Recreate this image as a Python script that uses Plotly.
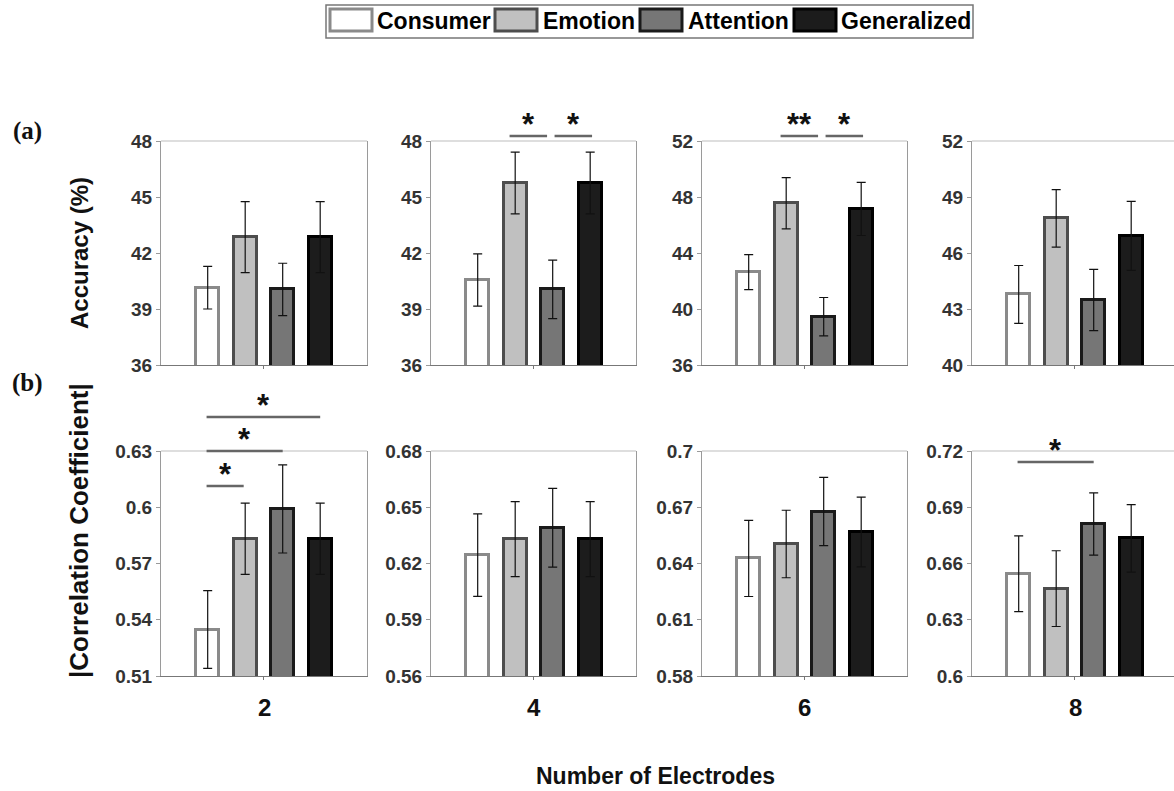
import plotly.graph_objects as go

# ---------------- data ----------------
categories = ["Consumer", "Emotion", "Attention", "Generalized"]
electrodes = ["2", "4", "6", "8"]

acc_mean_2 = [40.14, 42.85, 40.05, 42.85]
acc_err_2 = [1.14, 1.90, 1.40, 1.90]
acc_mean_4 = [40.55, 45.75, 40.05, 45.75]
acc_err_4 = [1.40, 1.65, 1.57, 1.65]
acc_mean_6 = [42.63, 47.55, 39.45, 47.15]
acc_err_6 = [1.25, 1.83, 1.37, 1.90]
acc_mean_8 = [43.78, 47.86, 43.48, 46.92]
acc_err_8 = [1.55, 1.54, 1.64, 1.85]

corr_mean_2 = [0.5348, 0.5832, 0.5991, 0.5832]
corr_err_2 = [0.0207, 0.0190, 0.0235, 0.0190]
corr_mean_4 = [0.6245, 0.6330, 0.6391, 0.6330]
corr_err_4 = [0.0220, 0.0200, 0.0210, 0.0200]
corr_mean_6 = [0.6427, 0.6504, 0.6677, 0.6568]
corr_err_6 = [0.0203, 0.0180, 0.0182, 0.0186]
corr_mean_8 = [0.6545, 0.6466, 0.6811, 0.6734]
corr_err_8 = [0.0202, 0.0202, 0.0166, 0.0180]

acc_ticks_2 = [36, 39, 42, 45, 48]
acc_ticks_4 = [36, 39, 42, 45, 48]
acc_ticks_6 = [36, 40, 44, 48, 52]
acc_ticks_8 = [40, 43, 46, 49, 52]
corr_ticks_2 = [0.51, 0.54, 0.57, 0.60, 0.63]
corr_ticks_4 = [0.56, 0.59, 0.62, 0.65, 0.68]
corr_ticks_6 = [0.58, 0.61, 0.64, 0.67, 0.70]
corr_ticks_8 = [0.60, 0.63, 0.66, 0.69, 0.72]

# significance brackets: (row, panel, group A, group B, label)
significance = [
    ("acc", "4", "Emotion", "Attention", "*"),
    ("acc", "4", "Attention", "Generalized", "*"),
    ("acc", "6", "Emotion", "Attention", "**"),
    ("acc", "6", "Attention", "Generalized", "*"),
    ("corr", "2", "Consumer", "Generalized", "*"),
    ("corr", "2", "Consumer", "Attention", "*"),
    ("corr", "2", "Consumer", "Emotion", "*"),
    ("corr", "8", "Consumer", "Attention", "*"),
]

# ---------------- style ----------------
W, H = 1174, 791
fills = ["#ffffff", "#c0c0c0", "#767676", "#1c1c1c"]
edges = ["#8a8a8a", "#4d4d4d", "#1a1a1a", "#000000"]
SANS = "Liberation Sans, Arial, sans-serif"
SERIF = "Liberation Serif, Times New Roman, serif"

def px(x):
    return x / W

def py(y):
    return 1 - y / H

col_px = [(161, 367), (431, 636), (702, 907), (972, 1174)]
row_px = {"acc": (141, 365), "corr": (451, 676)}
SPACING = 37.5  # pixels per category unit
X0 = -0.245

acc_means = [acc_mean_2, acc_mean_4, acc_mean_6, acc_mean_8]
acc_errs = [acc_err_2, acc_err_4, acc_err_6, acc_err_8]
corr_means = [corr_mean_2, corr_mean_4, corr_mean_6, corr_mean_8]
corr_errs = [corr_err_2, corr_err_4, corr_err_6, corr_err_8]
acc_ticks = [acc_ticks_2, acc_ticks_4, acc_ticks_6, acc_ticks_8]
corr_ticks = [corr_ticks_2, corr_ticks_4, corr_ticks_6, corr_ticks_8]

fig = go.Figure()
layout = dict(
    width=W, height=H,
    margin=dict(l=0, r=0, t=0, b=0, autoexpand=False),
    paper_bgcolor="white", plot_bgcolor="white",
    showlegend=False,
    bargap=0,
)
shapes = []
annotations = []
xranges = {}

xpos = [1, 2, 3, 4]
idx = 0
for row, means, errs, tick_sets in [("acc", acc_means, acc_errs, acc_ticks),
                                     ("corr", corr_means, corr_errs, corr_ticks)]:
    for c in range(4):
        idx += 1
        xa = "x" if idx == 1 else f"x{idx}"
        ya = "y" if idx == 1 else f"y{idx}"
        tk = tick_sets[c]
        fig.add_trace(go.Bar(
            x=xpos, y=means[c], xaxis=xa, yaxis=ya,
            width=0.62,
            marker=dict(color=fills, line=dict(color=edges, width=3)),
            error_y=dict(type="data", array=errs[c], visible=True,
                         color="#111111", thickness=1.2, width=4.5),
            hoverinfo="skip",
        ))
        x0p, x1p = col_px[c]
        y0p, y1p = row_px[row]
        xr = [X0, X0 + (x1p - x0p) / SPACING]
        xranges[(row, electrodes[c])] = (xr, xa, ya)
        layout[f"xaxis{'' if idx == 1 else idx}"] = dict(
            domain=[px(x0p), px(x1p)], anchor=ya, range=xr,
            showline=True, linecolor="#777777", linewidth=1,
            showgrid=False, zeroline=False, automargin=False,
            tickvals=[2.5], ticktext=[""], ticks="outside", ticklen=3,
            tickcolor="#777777", fixedrange=True,
        )
        layout[f"yaxis{'' if idx == 1 else idx}"] = dict(
            domain=[py(y1p), py(y0p)], anchor=xa, range=[tk[0], tk[-1]],
            showline=True, linecolor="#9a9a9a", linewidth=1,
            mirror=(c < 3), automargin=False,
            showgrid=False, zeroline=False,
            tickvals=tk, ticktext=[f"{t:g}" for t in tk],
            ticks="outside", ticklen=4, tickcolor="#9a9a9a",
            tickfont=dict(family=SANS, size=19, color="#333333", weight="bold"),
            fixedrange=True,
        )
        # light top border
        shapes.append(dict(type="line", xref=f"{xa} domain", yref=f"{ya} domain",
                           x0=0, x1=1, y0=1, y1=1,
                           line=dict(color="#bdbdbd", width=1)))

# significance brackets
line_levels = {
    ("acc", "4"): [1.022, 1.022],
    ("acc", "6"): [1.022, 1.022],
    ("corr", "2"): [1.151, 1.0, 0.844],
    ("corr", "8"): [0.951],
}
counter = {}
for row, el, a, b, label in significance:
    k = (row, el)
    n = counter.get(k, 0)
    counter[k] = n + 1
    level = line_levels[k][n]
    xr, xa, ya = xranges[k]
    ia = categories.index(a) + 1
    ib = categories.index(b) + 1
    if row == "acc":
        shift = -0.15 + (0.2 if n == 1 else 0)
        u0, u1 = ia + shift, ib + shift
    else:
        u0, u1 = ia - 0.03, ib - (0.0 if ib != 2 else 0.04)
    f0 = (u0 - xr[0]) / (xr[1] - xr[0])
    f1 = (u1 - xr[0]) / (xr[1] - xr[0])
    shapes.append(dict(type="line", xref=f"{xa} domain", yref=f"{ya} domain",
                       x0=f0, x1=f1, y0=level, y1=level,
                       line=dict(color="#666666", width=2.5)))
    annotations.append(dict(xref=f"{xa} domain", yref=f"{ya} domain",
                            x=(f0 + f1) / 2, y=level, text=label,
                            showarrow=False, xanchor="center", yanchor="bottom",
                            yshift=-8,
                            font=dict(family=SANS, size=31, color="#111111", weight="bold")))

# legend (manual)
shapes.append(dict(type="rect", xref="paper", yref="paper",
                   x0=px(326), x1=px(973), y0=py(38), y1=py(5),
                   line=dict(color="#777777", width=1.5), fillcolor="white"))
sw_x = [330, 495, 640, 794]
tx_x = [375, 541, 686, 839]
for i, name in enumerate(categories):
    shapes.append(dict(type="rect", xref="paper", yref="paper",
                       x0=px(sw_x[i]), x1=px(sw_x[i] + 42), y0=py(31), y1=py(9),
                       line=dict(color=edges[i], width=3), fillcolor=fills[i]))
    annotations.append(dict(xref="paper", yref="paper", x=px(tx_x[i]), y=py(21),
                            text=name, showarrow=False, xanchor="left", yanchor="middle",
                            font=dict(family=SANS, size=23, color="#000000", weight="bold")))

# electrode labels
for c, el in enumerate(electrodes):
    x0p, x1p = col_px[c]
    cx = x0p + (x1p - x0p) / 2 if c < 3 else x0p + 103
    annotations.append(dict(xref="paper", yref="paper", x=px(cx), y=py(707),
                            text=el, showarrow=False, xanchor="center", yanchor="middle",
                            font=dict(family=SANS, size=24, color="#111111", weight="bold")))

annotations.append(dict(xref="paper", yref="paper", x=px(655), y=py(776),
                        text="Number of Electrodes", showarrow=False,
                        xanchor="center", yanchor="middle",
                        font=dict(family=SANS, size=23, color="#111111", weight="bold")))

annotations.append(dict(xref="paper", yref="paper", x=px(79), y=py(253),
                        text="Accuracy (%)", showarrow=False, textangle=-90,
                        xanchor="center", yanchor="middle",
                        font=dict(family=SANS, size=24, color="#111111", weight="bold")))
annotations.append(dict(xref="paper", yref="paper", x=px(79), y=py(531),
                        text="|Correlation Coefficient|", showarrow=False, textangle=-90,
                        xanchor="center", yanchor="middle",
                        font=dict(family=SANS, size=26, color="#111111", weight="bold")))

annotations.append(dict(xref="paper", yref="paper", x=px(27), y=py(131),
                        text="(a)", showarrow=False, xanchor="center", yanchor="middle",
                        font=dict(family=SERIF, size=25, color="#111111", weight="bold")))
annotations.append(dict(xref="paper", yref="paper", x=px(27), y=py(383),
                        text="(b)", showarrow=False, xanchor="center", yanchor="middle",
                        font=dict(family=SERIF, size=25, color="#111111", weight="bold")))

layout["shapes"] = shapes
layout["annotations"] = annotations
fig.update_layout(**layout)
fig.write_html("out.html", config={"displayModeBar": False})
